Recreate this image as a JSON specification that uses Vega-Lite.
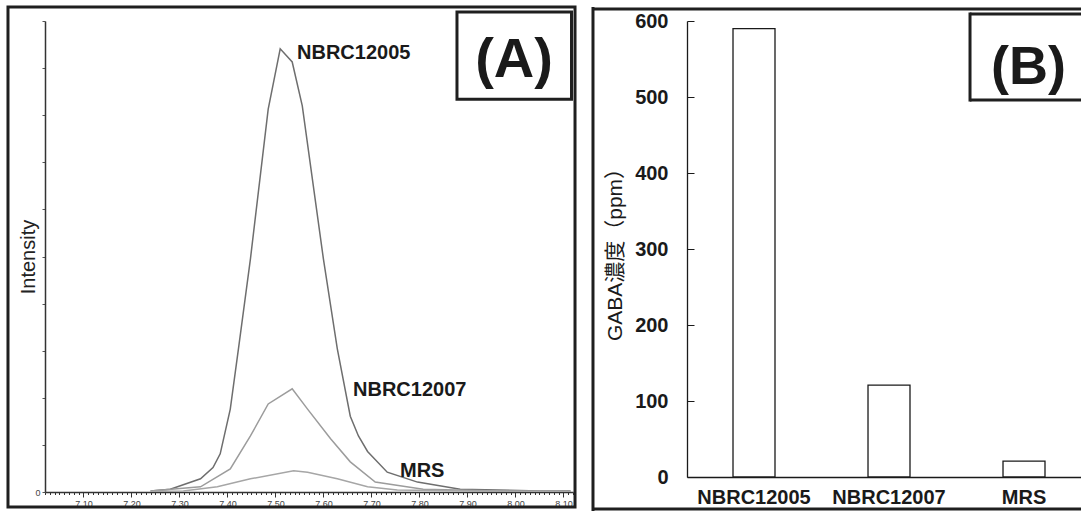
{
  "$schema": "https://vega.github.io/schema/vega-lite/v6.json",
  "padding": {"left": 6, "top": 5, "right": 0, "bottom": 0},
  "spacing": 14,
  "config": {"view": {"stroke": null}, "font": "Liberation Sans", "axis": {"grid": false}},
  "datasets": {
    "peaks": [
      {"strain": "NBRC12005", "t": 7.24, "intensity": 0.2},
      {"strain": "NBRC12005", "t": 7.281, "intensity": 0.6},
      {"strain": "NBRC12005", "t": 7.344, "intensity": 2.8},
      {"strain": "NBRC12005", "t": 7.37, "intensity": 5.2},
      {"strain": "NBRC12005", "t": 7.385, "intensity": 8.1},
      {"strain": "NBRC12005", "t": 7.406, "intensity": 17.6},
      {"strain": "NBRC12005", "t": 7.423, "intensity": 30.4},
      {"strain": "NBRC12005", "t": 7.448, "intensity": 49.5},
      {"strain": "NBRC12005", "t": 7.485, "intensity": 81.3},
      {"strain": "NBRC12005", "t": 7.51, "intensity": 94.1},
      {"strain": "NBRC12005", "t": 7.535, "intensity": 91.3},
      {"strain": "NBRC12005", "t": 7.556, "intensity": 82.0},
      {"strain": "NBRC12005", "t": 7.6, "intensity": 49.5},
      {"strain": "NBRC12005", "t": 7.629, "intensity": 30.4},
      {"strain": "NBRC12005", "t": 7.656, "intensity": 16.1},
      {"strain": "NBRC12005", "t": 7.673, "intensity": 11.9},
      {"strain": "NBRC12005", "t": 7.692, "intensity": 8.6},
      {"strain": "NBRC12005", "t": 7.733, "intensity": 4.2},
      {"strain": "NBRC12005", "t": 7.796, "intensity": 2.1},
      {"strain": "NBRC12005", "t": 7.885, "intensity": 0.6},
      {"strain": "NBRC12005", "t": 8.052, "intensity": 0.2},
      {"strain": "NBRC12005", "t": 8.115, "intensity": 0.2},
      {"strain": "NBRC12007", "t": 7.24, "intensity": 0.2},
      {"strain": "NBRC12007", "t": 7.344, "intensity": 1.1},
      {"strain": "NBRC12007", "t": 7.406, "intensity": 4.9},
      {"strain": "NBRC12007", "t": 7.448, "intensity": 11.9},
      {"strain": "NBRC12007", "t": 7.485, "intensity": 18.7},
      {"strain": "NBRC12007", "t": 7.535, "intensity": 21.9},
      {"strain": "NBRC12007", "t": 7.567, "intensity": 17.6},
      {"strain": "NBRC12007", "t": 7.615, "intensity": 11.3},
      {"strain": "NBRC12007", "t": 7.656, "intensity": 6.4},
      {"strain": "NBRC12007", "t": 7.708, "intensity": 2.1},
      {"strain": "NBRC12007", "t": 7.808, "intensity": 0.6},
      {"strain": "NBRC12007", "t": 7.969, "intensity": 0.2},
      {"strain": "NBRC12007", "t": 8.115, "intensity": 0.1},
      {"strain": "MRS", "t": 7.24, "intensity": 0.1},
      {"strain": "MRS", "t": 7.308, "intensity": 0.2},
      {"strain": "MRS", "t": 7.379, "intensity": 1.1},
      {"strain": "MRS", "t": 7.448, "intensity": 2.8},
      {"strain": "MRS", "t": 7.538, "intensity": 4.5},
      {"strain": "MRS", "t": 7.567, "intensity": 4.2},
      {"strain": "MRS", "t": 7.629, "intensity": 2.8},
      {"strain": "MRS", "t": 7.692, "intensity": 1.1},
      {"strain": "MRS", "t": 7.754, "intensity": 0.4},
      {"strain": "MRS", "t": 7.906, "intensity": 0.2},
      {"strain": "MRS", "t": 8.115, "intensity": 0.1}
    ],
    "gaba": [
      {"sample": "NBRC12005", "gaba": 590},
      {"sample": "NBRC12007", "gaba": 121},
      {"sample": "MRS", "gaba": 21}
    ]
  },
  "hconcat": [
    {
      "width": 528,
      "height": 471,
      "layer": [
        {
          "data": {"name": "peaks"},
          "mark": {"type": "line", "strokeWidth": 1.5, "clip": true},
          "encoding": {
            "x": {
              "field": "t", "type": "quantitative",
              "scale": {"domain": [7.02, 8.12], "nice": false, "zero": false},
              "axis": {
                "title": null,
                "tickCount": 500,
                "values": [7.02,7.03,7.04,7.05,7.06,7.07,7.08,7.09,7.1,7.11,7.12,7.13,7.14,7.15,7.16,7.17,7.18,7.19,7.2,7.21,7.22,7.23,7.24,7.25,7.26,7.27,7.28,7.29,7.3,7.31,7.32,7.33,7.34,7.35,7.36,7.37,7.38,7.39,7.4,7.41,7.42,7.43,7.44,7.45,7.46,7.47,7.48,7.49,7.5,7.51,7.52,7.53,7.54,7.55,7.56,7.57,7.58,7.59,7.6,7.61,7.62,7.63,7.64,7.65,7.66,7.67,7.68,7.69,7.7,7.71,7.72,7.73,7.74,7.75,7.76,7.77,7.78,7.79,7.8,7.81,7.82,7.83,7.84,7.85,7.86,7.87,7.88,7.89,7.9,7.91,7.92,7.93,7.94,7.95,7.96,7.97,7.98,7.99,8.0,8.01,8.02,8.03,8.04,8.05,8.06,8.07,8.08,8.09,8.1,8.11,8.12],
                "labelExpr": "abs(datum.value*10 - round(datum.value*10)) < 0.001 ? format(datum.value, '.2f') : ''",
                "tickSize": {"condition": {"test": "abs(datum.value*10 - round(datum.value*10)) < 0.001", "value": 5}, "value": 2.5},
                "labelOverlap": false,
                "labelFlush": false,
                "labelBound": false,
                "labelFontSize": 9,
                "labelColor": "#444444",
                "labelPadding": 2,
                "domainColor": "#333333",
                "domainWidth": 1.5,
                "tickColor": "#333333"
              }
            },
            "y": {
              "field": "intensity", "type": "quantitative",
              "scale": {"domain": [0, 100], "nice": false},
              "axis": {
                "title": "Intensity",
                "tickCount": 50,
                "values": [0,10,20,30,40,50,60,70,80,90,100],
                "labelExpr": "datum.value == 0 ? '0' : ''",
                "labelOverlap": false,
                "tickSize": 3,
                "labelFontSize": 9,
                "labelColor": "#444444",
                "labelPadding": 2,
                "domainColor": "#333333",
                "domainWidth": 1.5,
                "tickColor": "#555555",
                "titleFontSize": 20,
                "titleFontWeight": "normal",
                "titleColor": "#222222",
                "titleX": -17,
                "titleBaseline": "middle",
                "titleAngle": -90
              }
            },
            "color": {
              "field": "strain", "type": "nominal",
              "scale": {"domain": ["NBRC12005", "NBRC12007", "MRS"], "range": ["#6e6e6e", "#9c9c9c", "#a6a6a6"]},
              "legend": null
            }
          }
        },
        {
          "data": {"values": [{}]},
          "mark": {"type": "rect", "filled": false, "stroke": "#1f1f1f", "strokeWidth": 3},
          "encoding": {
            "x": {"datum": 6.9429}, "x2": {"datum": 8.1242},
            "y": {"datum": 102.97}, "y2": {"datum": -3.18}
          }
        },
        {
          "data": {"values": [{}]},
          "mark": {"type": "rect", "filled": false, "stroke": "#1f1f1f", "strokeWidth": 3},
          "encoding": {
            "x": {"datum": 7.8783}, "x2": {"datum": 8.1169},
            "y": {"datum": 101.9}, "y2": {"datum": 83.4}
          }
        },
        {
          "data": {"values": [{}]},
          "mark": {"type": "text", "text": "(A)", "fontSize": 56, "fontWeight": "bold", "align": "center", "baseline": "alphabetic", "color": "#1a1a1a"},
          "encoding": {"x": {"datum": 7.9971}, "y": {"datum": 88.1}}
        },
        {
          "data": {"values": [{}]},
          "mark": {"type": "text", "text": "NBRC12005", "fontSize": 20, "fontWeight": "bold", "align": "left", "baseline": "alphabetic", "color": "#1a1a1a"},
          "encoding": {"x": {"datum": 7.545}, "y": {"datum": 91.9}}
        },
        {
          "data": {"values": [{}]},
          "mark": {"type": "text", "text": "NBRC12007", "fontSize": 20, "fontWeight": "bold", "align": "left", "baseline": "alphabetic", "color": "#1a1a1a"},
          "encoding": {"x": {"datum": 7.6617}, "y": {"datum": 20.4}}
        },
        {
          "data": {"values": [{}]},
          "mark": {"type": "text", "text": "MRS", "fontSize": 20, "fontWeight": "bold", "align": "left", "baseline": "alphabetic", "color": "#1a1a1a"},
          "encoding": {"x": {"datum": 7.7596}, "y": {"datum": 3.18}}
        }
      ]
    },
    {
      "width": 394,
      "height": 456,
      "resolve": {"scale": {"x": "independent"}, "axis": {"x": "independent"}},
      "layer": [
        {
          "data": {"name": "gaba"},
          "mark": {"type": "bar", "fill": "white", "stroke": "#1a1a1a", "strokeWidth": 1.3},
          "encoding": {
            "x": {
              "field": "sample", "type": "nominal", "sort": null,
              "scale": {"paddingInner": 0.689, "paddingOuter": 0.30375, "align": 0.561},
              "axis": {
                "title": null, "ticks": false, "labelAngle": 0, "labelPadding": 10,
                "labelFontSize": 20, "labelFontWeight": "bold", "labelColor": "#1a1a1a",
                "domainColor": "#1a1a1a", "domainWidth": 1.3
              }
            },
            "y": {
              "field": "gaba", "type": "quantitative",
              "scale": {"domain": [0, 600], "nice": false},
              "axis": {
                "title": "GABA濃度（ppm）",
                "values": [0,100,200,300,400,500,600],
                "tickSize": -7,
                "labelPadding": 26,
                "labelFontSize": 20,
                "labelFontWeight": "bold",
                "labelColor": "#1a1a1a",
                "domainColor": "#1a1a1a",
                "domainWidth": 1.3,
                "tickColor": "#1a1a1a",
                "titleFont": "Liberation Sans, Noto Sans CJK JP",
                "titleFontSize": 21,
                "titleFontWeight": "normal",
                "titleColor": "#1a1a1a",
                "titleX": -72,
                "titleBaseline": "middle",
                "titleAngle": -90
              }
            }
          }
        },
        {
          "data": {"values": [{}]},
          "layer": [
            {
              "mark": {"type": "rule", "stroke": "#1f1f1f", "strokeWidth": 3},
              "encoding": {
                "x": {"datum": -0.2386, "type": "quantitative", "scale": {"domain": [0, 1]}, "axis": null},
                "y": {"datum": -44.7}, "y2": {"datum": 618.4}
              }
            },
            {
              "mark": {"type": "rule", "stroke": "#1f1f1f", "strokeWidth": 3},
              "encoding": {
                "x": {"datum": -0.2386, "type": "quantitative", "scale": {"domain": [0, 1]}, "axis": null},
                "x2": {"datum": 1.0},
                "y": {"datum": 615.8}
              }
            },
            {
              "mark": {"type": "rule", "stroke": "#1f1f1f", "strokeWidth": 3},
              "encoding": {
                "x": {"datum": -0.2386, "type": "quantitative", "scale": {"domain": [0, 1]}, "axis": null},
                "x2": {"datum": 1.0},
                "y": {"datum": -42.1}
              }
            },
            {
              "mark": {"type": "rule", "stroke": "#1f1f1f", "strokeWidth": 3},
              "encoding": {
                "x": {"datum": 0.7183, "type": "quantitative", "scale": {"domain": [0, 1]}, "axis": null},
                "y": {"datum": 494}, "y2": {"datum": 611.2}
              }
            },
            {
              "mark": {"type": "rule", "stroke": "#1f1f1f", "strokeWidth": 3},
              "encoding": {
                "x": {"datum": 0.7183, "type": "quantitative", "scale": {"domain": [0, 1]}, "axis": null},
                "x2": {"datum": 1.0},
                "y": {"datum": 609.2}
              }
            },
            {
              "mark": {"type": "rule", "stroke": "#1f1f1f", "strokeWidth": 3},
              "encoding": {
                "x": {"datum": 0.7183, "type": "quantitative", "scale": {"domain": [0, 1]}, "axis": null},
                "x2": {"datum": 1.0},
                "y": {"datum": 496}
              }
            },
            {
              "mark": {"type": "text", "text": "(B)", "fontSize": 54, "fontWeight": "bold", "align": "center", "baseline": "alphabetic", "color": "#1a1a1a"},
              "encoding": {
                "x": {"datum": 0.8668, "type": "quantitative", "scale": {"domain": [0, 1]}, "axis": null},
                "y": {"datum": 517.1}
              }
            }
          ]
        }
      ]
    }
  ]
}
